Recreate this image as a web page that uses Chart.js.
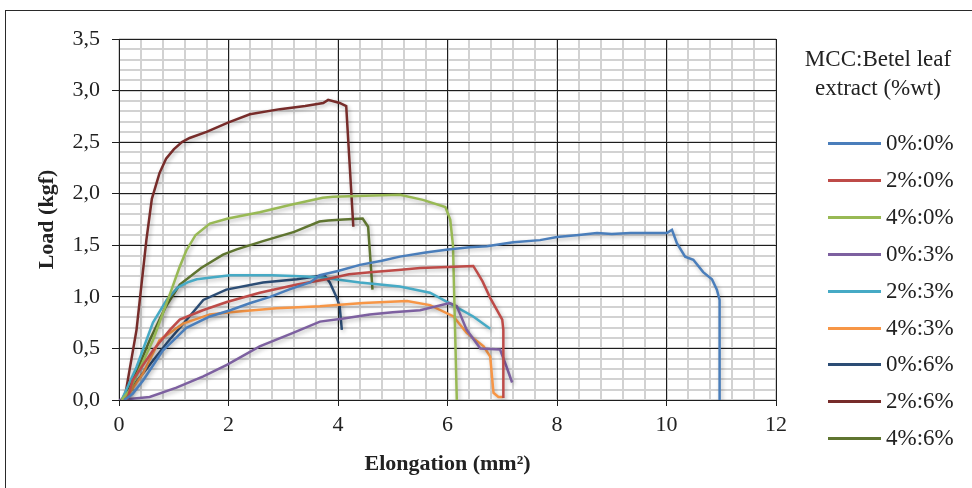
<!DOCTYPE html>
<html>
<head>
<meta charset="utf-8">
<script src="https://cdn.jsdelivr.net/npm/chart.js"></script>
<style>
  html, body { margin: 0; padding: 0; background: #fff; overflow: hidden; }
  #wrap { position: relative; width: 972px; height: 488px; }
  #frame { position: absolute; left: 5px; top: 10px; width: 1200px; height: 1200px; border: 1.5px solid #2a2a2a; }
  #chart { position: absolute; left: 0; top: 0; }
  .legend-title { position: absolute; left: 790px; width: 176px; text-align: center;
    font: 23px "Liberation Serif", serif; color: #222; line-height: 29px; }
  .legend-item { position: absolute; left: 828px; height: 26px; font: 23px "Liberation Serif", serif; color: #222; }
  .legend-item span.swatch { position: absolute; left: 0; top: 12px; width: 53px; height: 3px; }
  .legend-item span.label { position: absolute; left: 58px; top: 0; line-height: 26px; white-space: nowrap; }
</style>
</head>
<body>
<div id="wrap">
  <div id="frame"></div>
  <canvas id="chart" width="972" height="488"></canvas>
  <div id="legend"></div>
</div>
<script>
// series labels and colours
const seriesNames = ['0%:0%', '2%:0%', '4%:0%', '0%:3%', '2%:3%', '4%:3%', '0%:6%', '2%:6%', '4%:6%'];
const seriesColors = ['#4A7EBB', '#BE4B48', '#98B954', '#7D60A0', '#46AAC5', '#F79646', '#2C4D75', '#772C2A', '#5F7530'];

// elongation (mm) / load (kgf)
const x00 = [0.1, 0.25, 0.44, 0.8, 1.23, 1.66, 2.03, 2.4, 2.76, 3.1, 3.49, 3.67, 4.0, 4.4, 4.8, 5.13, 5.6, 6.01, 6.4, 6.72, 7.2, 7.69, 8.0, 8.4, 8.73, 9.0, 9.34, 9.7, 10.01, 10.1, 10.19, 10.34, 10.49, 10.67, 10.83, 10.92, 10.97, 10.97];
const y00 = [0, 0.06, 0.19, 0.48, 0.70, 0.81, 0.87, 0.94, 1.00, 1.07, 1.14, 1.21, 1.25, 1.31, 1.35, 1.39, 1.43, 1.46, 1.48, 1.49, 1.53, 1.55, 1.58, 1.60, 1.62, 1.61, 1.62, 1.62, 1.62, 1.65, 1.52, 1.39, 1.36, 1.24, 1.17, 1.07, 0.97, 0];

const x20 = [0.15, 0.25, 0.62, 0.93, 1.11, 1.53, 1.97, 2.57, 3.25, 3.79, 4.2, 4.64, 5.1, 5.5, 6.01, 6.47, 6.54, 6.64, 6.78, 7.0, 7.02, 7.02];
const y20 = [0, 0.19, 0.48, 0.68, 0.78, 0.87, 0.95, 1.04, 1.12, 1.17, 1.22, 1.24, 1.26, 1.28, 1.29, 1.30, 1.24, 1.15, 0.99, 0.78, 0.68, 0.02];

const x40 = [0.05, 0.2, 0.62, 0.96, 1.1, 1.23, 1.4, 1.66, 1.99, 2.57, 3.12, 3.72, 3.91, 4.5, 5.13, 5.55, 5.96, 6.05, 6.10, 6.17];
const y40 = [0, 0.1, 0.58, 1.07, 1.28, 1.45, 1.60, 1.71, 1.76, 1.82, 1.89, 1.96, 1.97, 1.98, 1.99, 1.94, 1.87, 1.75, 1.5, 0];

const x03 = [0.0, 0.56, 1.05, 1.54, 1.97, 2.57, 3.18, 3.67, 4.1, 4.58, 5.0, 5.50, 6.04, 6.17, 6.35, 6.60, 6.96, 7.08, 7.18];
const y03 = [0, 0.03, 0.12, 0.23, 0.34, 0.52, 0.65, 0.76, 0.79, 0.83, 0.85, 0.87, 0.94, 0.91, 0.68, 0.50, 0.49, 0.32, 0.17];

const x23 = [0.05, 0.32, 0.62, 0.87, 1.07, 1.25, 1.42, 2.03, 2.8, 3.3, 3.67, 4.40, 5.13, 5.68, 6.10, 6.47, 6.78];
const y23 = [0, 0.32, 0.75, 0.97, 1.09, 1.14, 1.17, 1.21, 1.21, 1.20, 1.19, 1.14, 1.10, 1.04, 0.92, 0.81, 0.69];

const x43 = [0.1, 0.44, 0.74, 1.17, 1.66, 2.03, 2.88, 3.67, 4.46, 5.26, 5.68, 6.11, 6.35, 6.66, 6.78, 6.84, 6.93, 7.02];
const y43 = [0, 0.26, 0.58, 0.74, 0.83, 0.85, 0.89, 0.91, 0.94, 0.96, 0.92, 0.81, 0.65, 0.52, 0.42, 0.07, 0.03, 0.03];

const x06 = [0.07, 0.44, 0.87, 1.24, 1.54, 1.96, 2.63, 3.25, 3.61, 3.75, 3.85, 3.97, 4.03, 4.07];
const y06 = [0, 0.26, 0.55, 0.78, 0.97, 1.07, 1.14, 1.17, 1.20, 1.21, 1.14, 1.00, 0.91, 0.68];

const x26 = [0.1, 0.16, 0.32, 0.5, 0.6, 0.74, 0.86, 1.0, 1.15, 1.29, 1.6, 1.99, 2.39, 2.94, 3.40, 3.73, 3.82, 4.03, 4.15, 4.28];
const y26 = [0, 0.19, 0.68, 1.55, 1.95, 2.2, 2.34, 2.43, 2.50, 2.54, 2.60, 2.69, 2.77, 2.82, 2.85, 2.88, 2.91, 2.88, 2.85, 1.68];

const x46 = [0.05, 0.3, 0.56, 0.85, 1.11, 1.5, 1.90, 2.15, 2.63, 3.2, 3.66, 3.82, 4.1, 4.45, 4.55, 4.63];
const y46 = [0, 0.25, 0.58, 0.90, 1.12, 1.28, 1.41, 1.46, 1.54, 1.63, 1.73, 1.74, 1.75, 1.76, 1.68, 1.07];

const seriesX = [x00, x20, x40, x03, x23, x43, x06, x26, x46];
const seriesY = [y00, y20, y40, y03, y23, y43, y06, y26, y46];

const legendTitle = ['MCC:Betel leaf', 'extract (%wt)'];

const serif = '"Liberation Serif", "Times New Roman", serif';

const datasets = seriesNames.map((name, i) => ({
  label: name,
  data: seriesX[i].map((x, j) => ({ x: x, y: seriesY[i][j] })),
  borderColor: seriesColors[i],
  backgroundColor: seriesColors[i],
  borderWidth: 2.5,
  pointRadius: 0,
  tension: 0,
  fill: false,
  xAxisID: 'x',
  yAxisID: 'y',
}));

// soft drop shadow like the original
const shadowPlugin = {
  id: 'shadow',
  beforeDatasetsDraw(chart) {
    const ctx = chart.ctx;
    ctx.save();
    ctx.shadowColor = 'rgba(0,0,0,0.28)';
    ctx.shadowBlur = 4;
    ctx.shadowOffsetX = 1.5;
    ctx.shadowOffsetY = 2;
  },
  afterDatasetsDraw(chart) {
    chart.ctx.restore();
  },
};

new Chart(document.getElementById('chart'), {
  type: 'line',
  data: { datasets },
  options: {
    responsive: false,
    animation: false,
    layout: { padding: { top: 39, right: 196, bottom: 0, left: 0 } },
    plugins: { legend: { display: false }, tooltip: { enabled: false } },
    scales: {
      x: {
        type: 'linear',
        position: 'bottom',
        min: 0,
        max: 12,
        ticks: {
          stepSize: 2,
          autoSkip: false,
          maxRotation: 0,
          padding: 6,
          color: '#222',
          font: { family: serif, size: 22 },
        },
        grid: { color: '#1e1e1e', lineWidth: 1, tickLength: 6, tickColor: '#1e1e1e' },
        border: { color: '#1e1e1e', width: 1 },
        title: {
          display: true,
          text: 'Elongation (mm²)',
          color: '#222',
          font: { family: serif, size: 22, weight: 'bold' },
          padding: { top: 0, bottom: 10 },
        },
        afterFit(scale) { scale.height = 88; },
      },
      y: {
        type: 'linear',
        position: 'left',
        min: 0,
        max: 3.5,
        ticks: {
          stepSize: 0.5,
          autoSkip: false,
          padding: 12,
          color: '#222',
          font: { family: serif, size: 22 },
          callback: v => v.toFixed(1).replace('.', ','),
        },
        grid: { color: '#1e1e1e', lineWidth: 1, tickLength: 7, tickColor: '#1e1e1e' },
        border: { color: '#1e1e1e', width: 1 },
        title: {
          display: true,
          text: 'Load (kgf)',
          color: '#222',
          font: { family: serif, size: 22, weight: 'bold' },
          padding: { top: 34, bottom: 0 },
        },
        afterFit(scale) { scale.width = 119; },
      },
      xMinor: {
        type: 'linear',
        position: 'bottom',
        min: 0,
        max: 12,
        ticks: { stepSize: 0.4, display: false },
        grid: { color: '#d2d2d2', lineWidth: 2, drawTicks: false, z: -2 },
        border: { display: false },
        afterFit(scale) { scale.height = 0; },
      },
      yMinor: {
        type: 'linear',
        position: 'left',
        min: 0,
        max: 3.5,
        ticks: { stepSize: 0.1, display: false },
        grid: { color: '#d2d2d2', lineWidth: 2, drawTicks: false, z: -2 },
        border: { display: false },
        afterFit(scale) { scale.width = 0; },
      },
    },
  },
  plugins: [shadowPlugin],
});

// html legend on the right
const legend = document.getElementById('legend');
legendTitle.forEach((t, i) => {
  const d = document.createElement('div');
  d.className = 'legend-title';
  d.style.top = (44 + i * 29) + 'px';
  d.textContent = t;
  legend.appendChild(d);
});
seriesNames.forEach((name, i) => {
  const item = document.createElement('div');
  item.className = 'legend-item';
  item.style.top = (130 + i * 36.9) + 'px';
  item.innerHTML = '<span class="swatch" style="background:' + seriesColors[i] + '"></span><span class="label"></span>';
  item.querySelector('.label').textContent = name;
  legend.appendChild(item);
});
</script>
</body>
</html>
